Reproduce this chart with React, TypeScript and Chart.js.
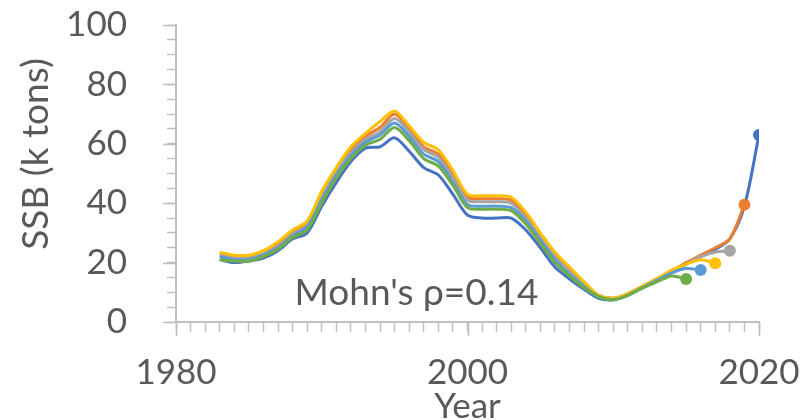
import React, { useEffect, useRef } from 'react';
import { Chart, registerables } from 'chart.js';

Chart.register(...registerables);

// ---------- data ----------
const years = [
  1983, 1984, 1985, 1986, 1987, 1988, 1989, 1990, 1991, 1992,
  1993, 1994, 1995, 1996, 1997, 1998, 1999, 2000, 2001, 2002,
  2003, 2004, 2005, 2006, 2007, 2008, 2009, 2010, 2011, 2012,
  2013, 2014, 2015, 2016, 2017, 2018, 2019, 2020,
];

const ssb2020 = [
  21, 20, 20.5, 21.5, 24, 28, 30, 39, 47, 54,
  58.5, 59, 62, 57.5, 52, 49.5, 43, 36, 35, 35,
  35, 31, 25, 18.5, 14.5, 11, 8, 7.5, 9, 11.5,
  14, 16.5, 19.5, 22, 24.5, 28, 39, 63,
];
const ssb2019 = [
  23, 22, 22, 23.5, 26, 30, 33, 43, 51, 58,
  62.5, 65.5, 70, 65, 59, 56.5, 49.5, 42, 41.5, 41.5,
  41, 36, 29, 22.5, 17.5, 13, 9, 8, 9.5, 12,
  14.5, 17, 20, 22.5, 25, 28, 39.5,
];
const ssb2018 = [
  22.5, 21.5, 21.5, 23, 25.5, 29.5, 32.5, 42, 50.5, 57,
  61.5, 64, 68.5, 64, 58, 55.5, 48.5, 41, 40.5, 40.5,
  40, 35, 28.5, 22, 17, 12.5, 9, 8, 9.5, 12,
  14.5, 17, 19.5, 22, 23.5, 24,
];
const ssb2017 = [
  23.5, 22.5, 22.5, 24, 27, 31, 34, 44, 52, 59,
  63.5, 67.5, 71, 66, 60.5, 58, 51, 43, 42.5, 42.5,
  42, 37, 30, 23.5, 18.5, 13.5, 9, 8, 9.5, 12,
  14.5, 17.5, 19.5, 21, 19.8,
];
const ssb2016 = [
  22, 21, 21, 22.5, 25, 29, 32, 41, 49.5, 56,
  60.5, 63, 67, 62.5, 56.5, 54, 47, 39.5, 39, 39,
  38.5, 34, 27.5, 21, 16, 12, 8.5, 7.5, 9, 11.5,
  14, 16.5, 18, 17.5,
];
const ssb2015 = [
  21, 20.5, 20.5, 22, 24.5, 28.5, 31, 40, 48.5, 55,
  59.5, 61.5, 65.5, 61, 55, 52.5, 46, 38.5, 38, 38,
  37.5, 33, 26.5, 20, 15.5, 11.5, 8.5, 7.5, 9, 11.5,
  13.5, 15.5, 14.5,
];

const peelNames = ['2020', '2019', '2018', '2017', '2016', '2015'];
const peelValues = [ssb2020, ssb2019, ssb2018, ssb2017, ssb2016, ssb2015];
const peelColors = ['#4472C4', '#ED7D31', '#A5A5A5', '#FFC000', '#5B9BD5', '#70AD47'];

const xMajorTicks = [1980, 2000, 2020];
const yMajorTicks = [0, 20, 40, 60, 80, 100];
const annotationText = "Mohn's ρ=0.14";
const yTitleText = 'SSB (k tons)';
const xTitleText = 'Year';

// ---------- style ----------
const TEXT = '#595959';
const AXIS = '#BFBFBF';
const FONT = 'Lato';

const extrasPlugin = {
  id: 'extras',
  beforeDatasetsDraw(chart: any) {
    const { ctx, scales } = chart;
    const x = scales.x;
    const y = scales.y;
    ctx.save();
    ctx.fillStyle = TEXT;
    ctx.font = `37px ${FONT}`;
    ctx.textAlign = 'center';
    ctx.textBaseline = 'middle';
    ctx.fillText(annotationText, x.getPixelForValue(1996.5), y.getPixelForValue(9.8));
    ctx.restore();
  },
  afterDraw(chart: any) {
    const { ctx, scales, chartArea } = chart;
    const x = scales.x;
    const y = scales.y;
    ctx.save();
    ctx.strokeStyle = AXIS;
    ctx.lineWidth = 1.5;
    ctx.beginPath();
    for (const v of xMajorTicks) {
      const px = Math.round(x.getPixelForValue(v)) + 0.5;
      ctx.moveTo(px, chartArea.bottom);
      ctx.lineTo(px, chartArea.bottom + 14);
    }
    for (const v of yMajorTicks) {
      const py = Math.round(y.getPixelForValue(v)) + 0.5;
      ctx.moveTo(chartArea.left - 13, py);
      ctx.lineTo(chartArea.left, py);
    }
    ctx.stroke();

    ctx.fillStyle = TEXT;
    ctx.font = `37px ${FONT}`;
    ctx.textAlign = 'center';
    ctx.textBaseline = 'middle';
    ctx.translate(36, 154);
    ctx.rotate(-Math.PI / 2);
    ctx.fillText(yTitleText, 0, 0);
    ctx.restore();
  },
};

export default function App() {
  const canvasRef = useRef<HTMLCanvasElement | null>(null);

  useEffect(() => {
    if (!canvasRef.current) return;
    const datasets = peelValues.map((vals, i) => ({
      label: peelNames[i],
      data: vals.map((v, j) => ({ x: years[j], y: v })),
      borderColor: peelColors[i],
      backgroundColor: peelColors[i],
      borderWidth: 3,
      tension: 0.3,
      fill: false,
      order: peelValues.length - i,
      pointRadius: (c: any) => (c.dataIndex === vals.length - 1 ? 6 : 0),
      pointHoverRadius: (c: any) => (c.dataIndex === vals.length - 1 ? 6 : 0),
      pointBorderWidth: 0,
      pointBackgroundColor: peelColors[i],
    }));

    const chart = new Chart(canvasRef.current, {
      type: 'line',
      data: { datasets },
      plugins: [extrasPlugin],
      options: {
        animation: false,
        responsive: false,
        maintainAspectRatio: false,
        layout: { autoPadding: false, padding: { left: 0, right: 46, top: 25, bottom: 0 } },
        plugins: {
          legend: { display: false },
          tooltip: { enabled: false },
          title: { display: false },
        },
        scales: {
          x: {
            type: 'linear',
            min: 1980,
            max: 2020,
            offset: false,
            afterFit: (s: any) => {
              s.height = 98;
              s.paddingLeft = 0;
              s.paddingRight = 0;
              s.paddingTop = 0;
              s.paddingBottom = 0;
            },
            afterBuildTicks: (s: any) => {
              const t = [];
              for (let v = 1980; v <= 2020; v++) t.push({ value: v });
              s.ticks = t;
            },
            ticks: {
              autoSkip: false,
              maxRotation: 0,
              minRotation: 0,
              padding: 20,
              color: TEXT,
              font: { family: FONT, size: 35 },
              callback: (v: any) => (xMajorTicks.includes(Number(v)) ? String(v) : ''),
            },
            grid: {
              drawOnChartArea: false,
              drawTicks: true,
              tickLength: 10,
              tickColor: AXIS,
              tickWidth: 1.5,
            },
            border: { display: true, color: AXIS, width: 2 },
            title: {
              display: true,
              text: xTitleText,
              color: TEXT,
              font: { family: FONT, size: 35 },
              padding: { top: 0, bottom: -8 },
            },
          },
          y: {
            type: 'linear',
            min: 0,
            max: 100,
            afterFit: (s: any) => {
              s.width = 176;
              s.paddingLeft = 0;
              s.paddingRight = 0;
              s.paddingTop = 0;
              s.paddingBottom = 0;
            },
            afterBuildTicks: (s: any) => {
              const t = [];
              for (let v = 0; v <= 100; v += 5) t.push({ value: v });
              s.ticks = t;
            },
            ticks: {
              autoSkip: false,
              padding: 40,
              color: TEXT,
              font: { family: FONT, size: 35 },
              callback: (v: any) => (yMajorTicks.includes(Number(v)) ? String(v) : ''),
            },
            grid: {
              drawOnChartArea: false,
              drawTicks: true,
              tickLength: 9,
              tickColor: AXIS,
              tickWidth: 1.5,
            },
            border: { display: true, color: AXIS, width: 2 },
          },
        },
      },
    });
    return () => chart.destroy();
  }, []);

  return (
    <div style={{ position: 'fixed', left: 0, top: 0, width: 805, height: 420, background: '#ffffff' }}>
      <canvas ref={canvasRef} width={805} height={420} style={{ display: 'block' }} />
    </div>
  );
}
